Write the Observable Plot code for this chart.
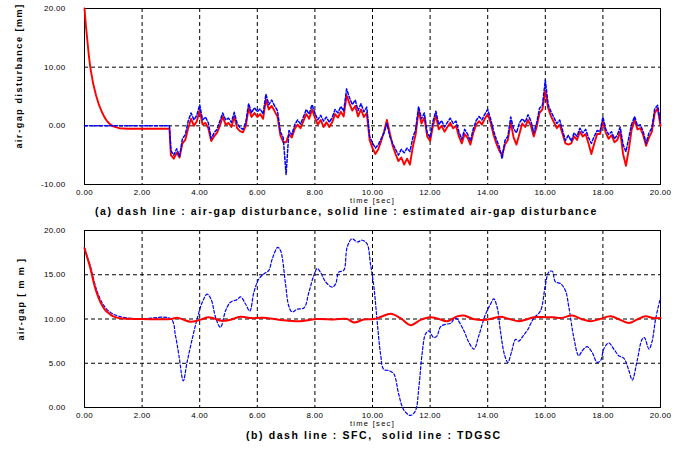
<!DOCTYPE html>
<html><head><meta charset="utf-8">
<script src="https://cdn.jsdelivr.net/npm/d3@7"></script>
<script src="https://cdn.jsdelivr.net/npm/@observablehq/plot@0.6"></script>
<style>
body{margin:0;background:#fff;}
#wrap{position:relative;width:699px;height:450px;overflow:hidden;font-family:"Liberation Sans",Arial,sans-serif;}
#wrap svg{position:absolute;left:0;}
.cap{position:absolute;font-weight:bold;font-size:10.5px;letter-spacing:1.58px;white-space:pre;line-height:1;color:#000;}
</style></head><body><div id="wrap"></div>
<script>
// ---- shared ticks ----
const xTicks = [0,2,4,6,8,10,12,14,16,18,20];
const yTicksA = [-10,0,10,20];
const yTicksB = [0,5,10,15,20];

// ---- panel (a): head (0-3 s) ----
const distHeadT = [0, 2.95];
const distHeadV = [0, 0];
const estHeadT = [0,0.05,0.1,0.15,0.2,0.3,0.4,0.5,0.6,0.7,0.8,0.9,1.0,1.2,1.5,2.95];
const estHeadV = [20,17,14.5,12,10,7.2,5.2,3.6,2.4,1.4,0.7,0.2,-0.1,-0.4,-0.5,-0.5];

// ---- panel (a): sampled 3.0 .. 20.0 s, every 0.1 s ----
const sampleStart = 3.0, sampleStep = 0.1;
const disturbance = [
-4.2,-5.0,-3.9,-5.2,-2.2,-1.5,0.8,2.2,1.0,1.8,
3.6,1.0,1.5,0.5,-2.2,-1.2,-0.6,0.8,2.2,1.0,
1.3,0.6,2.3,0.4,-0.3,-0.6,0.6,3.8,2.2,3.1,
2.4,2.9,2.0,5.4,3.6,4.4,3.4,2.6,-1.0,-2.0,
-8.3,-0.8,-1.5,0.2,1.0,0.3,1.5,2.8,2.0,3.6,
2.2,1.0,1.8,0.8,1.5,0.6,1.4,2.8,2.2,3.3,
2.5,6.3,4.8,3.6,4.4,2.6,3.8,2.4,3.2,-1.8,
-2.9,-3.8,-3.2,-2.2,-1.2,0.4,-1.8,-3.0,-4.0,-5.0,
-4.0,-4.6,-3.8,-4.4,-2.0,-0.6,3.3,1.2,2.2,-1.2,
-2.0,0.8,2.5,0.2,0.9,-0.2,0.6,1.3,0.4,0.8,
-1.0,-2.3,-0.6,-1.4,-2.6,-0.5,0.9,1.6,1.0,2.0,
2.8,1.2,-0.8,-2.3,-3.5,-5.6,-2.5,-1.8,1.5,-0.5,
-1.2,0.5,1.2,0.6,1.9,0.8,-1.2,0.5,3.0,3.5,
7.8,3.6,2.4,1.4,0.4,1.0,-0.8,-2.5,-1.6,-2.6,
-1.2,-1.8,-0.4,-1.2,-0.6,-2.0,-3.0,-1.8,-0.8,-1.0,
1.5,-0.6,-1.5,-1.0,-2.2,-1.6,-0.2,-3.2,-4.4,-2.0,
0.3,1.6,0.0,0.2,-1.0,-3.0,-1.2,-0.4,2.9,3.5,
0.5];
const estimated = [
-5.0,-5.6,-4.6,-5.4,-3.0,-2.4,-0.4,1.2,0.0,0.8,
2.6,0.2,0.5,-0.4,-2.6,-1.8,-1.2,0.0,1.6,0.2,
0.5,-0.2,1.6,-0.4,-0.9,-1.1,0.0,3.0,1.5,2.2,
1.5,2.0,1.2,4.5,2.8,3.4,2.5,1.6,-1.6,-2.8,
-2.8,-1.4,-2.0,-0.5,0.2,-0.4,0.8,2.0,1.2,2.8,
1.4,0.2,1.0,-0.2,0.6,-0.2,0.6,2.0,1.4,2.4,
1.6,5.2,3.8,2.6,3.4,1.6,2.8,1.5,2.2,-2.4,
-3.8,-4.8,-4.0,-2.6,-1.0,1.0,-1.2,-3.4,-4.8,-6.0,
-5.4,-6.6,-5.6,-6.6,-3.6,-1.4,2.6,0.4,1.4,-1.8,
-2.6,0.0,1.8,-0.6,0.0,-1.0,-0.2,0.5,-0.4,0.0,
-1.8,-3.0,-1.4,-2.0,-3.2,-1.2,0.2,0.8,0.2,1.2,
2.0,0.6,-1.5,-3.0,-4.2,-5.0,-3.2,-2.4,0.6,-2.0,
-3.2,-1.4,0.4,-0.2,1.0,0.0,-1.8,-0.2,2.2,2.8,
6.0,3.0,1.6,0.6,-0.4,0.2,-1.4,-3.0,-3.2,-3.0,
-1.8,-2.4,-1.0,-1.8,-1.4,-3.0,-4.8,-3.0,-1.4,-1.4,
0.8,-1.2,-2.2,-1.6,-2.8,-2.4,-1.0,-4.8,-6.8,-4.0,
-0.6,1.0,-0.6,-0.4,-1.6,-3.4,-2.0,-1.0,2.2,3.0,
0.0];

// ---- panel (b) ----
const sfcT = [0,0.1,0.2,0.3,0.4,0.5,0.6,0.7,0.8,0.9,1.0,1.2,1.5,2.0,3.0,3.16,3.28,3.43,3.56,3.74,3.91,4.09,4.26,4.4,4.55,4.72,4.9,5.07,5.3,5.42,5.59,5.74,5.88,6.05,6.23,6.4,6.52,6.71,6.81,6.98,7.09,7.21,7.38,7.62,7.79,7.96,8.08,8.19,8.37,8.6,8.72,8.83,9.0,9.12,9.29,9.47,9.64,9.81,9.93,10.05,10.16,10.28,10.39,10.57,10.74,10.91,11.09,11.32,11.49,11.61,11.72,11.84,11.95,12.13,12.24,12.36,12.53,12.71,12.88,13.17,13.34,13.52,13.69,13.92,14.1,14.21,14.33,14.44,14.58,14.7,14.82,14.97,15.08,15.23,15.39,15.6,15.83,16.0,16.12,16.24,16.35,16.53,16.7,16.82,16.99,17.16,17.28,17.45,17.63,17.8,17.92,18.03,18.2,18.38,18.55,18.73,18.9,19.02,19.19,19.36,19.44,19.6,19.71,19.83,20.0];
const sfcV = [18.05,17.0,16.0,14.7,13.5,12.6,11.9,11.4,11.0,10.75,10.55,10.3,10.1,10.02,10.0,8.1,5.85,3.0,5.1,7.75,10.0,11.9,12.8,12.2,10.2,9.06,10.95,11.9,12.2,12.5,11.7,10.9,13.0,14.5,15.1,15.5,16.8,18.1,17.7,13.97,11.5,10.8,11.1,11.25,13.0,14.9,15.7,15.3,14.2,13.6,13.97,15.3,15.5,18.1,19.07,18.7,18.9,18.5,16.2,13.6,9.8,6.04,4.3,4.17,3.8,1.5,-0.3,-0.9,-0.37,2.3,6.0,8.3,8.65,7.9,8.1,9.1,9.4,9.5,10.1,8.7,7.4,6.6,8.1,10.5,11.7,12.28,11.3,8.7,6.0,5.1,6.2,7.7,7.5,8.1,8.8,10.1,10.9,13.8,15.3,15.4,14.2,14.0,13.2,11.3,7.9,5.85,6.4,6.87,6.2,5.1,5.3,6.6,7.3,6.6,5.85,5.55,4.2,3.1,5.3,7.7,7.9,6.6,7.5,10.0,12.4];
const tdgT = [0,0.1,0.2,0.3,0.4,0.5,0.6,0.7,0.8,0.9,1.0,1.2,1.5,2.0,3.0,3.22,3.45,3.68,3.9,4.1,4.3,4.5,4.75,5.0,5.42,5.8,6.2,6.81,7.5,8.08,8.66,9.12,9.36,9.7,10.05,10.3,10.63,10.97,11.32,11.67,12.01,12.3,12.59,12.94,13.17,13.5,13.86,14.15,14.44,14.75,15.08,15.35,15.6,16.0,16.3,16.53,16.93,17.25,17.57,17.9,18.26,18.6,18.9,19.2,19.48,19.75,20.0];
const tdgV = [18.0,16.9,15.8,14.4,13.2,12.3,11.6,11.1,10.75,10.5,10.3,10.1,10.02,10.0,10.0,10.15,9.9,9.7,9.8,10.0,10.2,10.05,9.8,9.85,10.25,10.1,10.15,9.9,9.75,10.0,9.95,10.0,9.6,9.95,10.0,10.25,10.6,10.1,9.3,9.9,10.2,10.0,9.75,10.3,10.4,10.0,9.9,10.05,10.25,10.0,9.75,9.95,10.2,10.2,10.2,10.1,10.4,10.0,9.75,10.0,10.3,9.9,9.55,9.95,10.3,10.1,10.1];

const titleA = "air-gap disturbance [mm]";
const titleB = "air-gap [ m m ]";
const xTitle = "time [sec]";
const captionA = "(a) dash line : air-gap disturbance, solid line : estimated air-gap disturbance";
const captionB = "(b) dash line : SFC,  solid line : TDGSC";

// ---- build tables ----
const sampleT = disturbance.map((_, i) => +(sampleStart + i * sampleStep).toFixed(2));
const distData = distHeadT.map((t, i) => ({t, v: distHeadV[i]}))
  .concat(sampleT.map((t, i) => ({t, v: disturbance[i]})));
const estData = estHeadT.map((t, i) => ({t, v: estHeadV[i]}))
  .concat(sampleT.map((t, i) => ({t, v: estimated[i]})));
const sfcData = sfcT.map((t, i) => ({t, v: sfcV[i]}));
const tdgData = tdgT.map((t, i) => ({t, v: tdgV[i]}));

const fmt = d => d.toFixed(2);
const font = "'Liberation Sans', Arial, sans-serif";

function panel({yDomain, yTicks, lines, ytitle, ytDx, ytDy, height, frameH}) {
  return Plot.plot({
    width: 699, height,
    marginTop: 8, marginBottom: height - 8 - frameH, marginLeft: 84, marginRight: 39,
    style: {fontFamily: font, fontSize: "8px", color: "#000", background: "transparent", overflow: "visible"},
    x: {domain: [0, 20], ticks: xTicks, tickFormat: fmt, tickSize: 0, tickPadding: 5, label: null},
    y: {domain: yDomain, ticks: yTicks, tickFormat: fmt, tickSize: 0, tickPadding: 19, label: null},
    marks: [
      Plot.ruleX(xTicks, {stroke: "#000", strokeWidth: 1, strokeDasharray: "4,3"}),
      Plot.ruleY(yTicks, {stroke: "#000", strokeWidth: 1, strokeDasharray: "4,3"}),
      Plot.frame({stroke: "#000", strokeWidth: 1}),
      ...lines,
      Plot.text([xTitle], {text: d => d, frameAnchor: "bottom", dy: 16.5, fontSize: 7.5, lineAnchor: "middle", fill: "#000"}),
      Plot.text([ytitle], {text: d => d, frameAnchor: "bottom-left", dx: ytDx, dy: ytDy, rotate: -90, textAnchor: "start", lineAnchor: "middle", fontSize: 9, fontWeight: "bold", fill: "#000"})
    ]
  });
}

function spacing(svg, content, px) {
  d3.select(svg).selectAll("text")
    .filter(function() { return this.textContent === content; })
    .style("letter-spacing", px);
}

const plotA = panel({
  height: 204, frameH: 176, yDomain: [-10, 20], yTicks: yTicksA, ytitle: titleA, ytDx: -65, ytDy: -36,
  lines: [
    Plot.line(estData, {x: "t", y: "v", stroke: "#ff0000", strokeWidth: 1.9}),
    Plot.line(distData, {x: "t", y: "v", stroke: "#0000ff", strokeWidth: 1.5, strokeDasharray: "3,2"})
  ]
});
const plotB = panel({
  height: 205, frameH: 177, yDomain: [0, 20], yTicks: yTicksB, ytitle: titleB, ytDx: -63, ytDy: -67,
  lines: [
    Plot.line(sfcData, {x: "t", y: "v", stroke: "#0000ff", strokeWidth: 1.2, strokeDasharray: "3,2", curve: "catmull-rom"}),
    Plot.line(tdgData, {x: "t", y: "v", stroke: "#ff0000", strokeWidth: 2, curve: "catmull-rom"})
  ]
});
spacing(plotA, titleA, "1.55px");
spacing(plotB, titleB, "1.4px");
spacing(plotA, xTitle, "1.3px");
spacing(plotB, xTitle, "1.3px");
for (const p of [plotA, plotB]) {
  d3.select(p).selectAll("text").filter(function() { return /^-?\d+\.00$/.test(this.textContent); })
    .style("letter-spacing", "0.3px");
}

const wrap = document.getElementById("wrap");
plotA.style.top = "0px";
plotB.style.top = "222px";
wrap.appendChild(plotA);
wrap.appendChild(plotB);

const capA = document.createElement("div");
capA.className = "cap"; capA.textContent = captionA;
capA.style.left = "95px"; capA.style.top = "206px";
wrap.appendChild(capA);
const capB = document.createElement("div");
capB.className = "cap"; capB.textContent = captionB;
capB.style.left = "246px"; capB.style.top = "430px";
wrap.appendChild(capB);
</script>
</body></html>
